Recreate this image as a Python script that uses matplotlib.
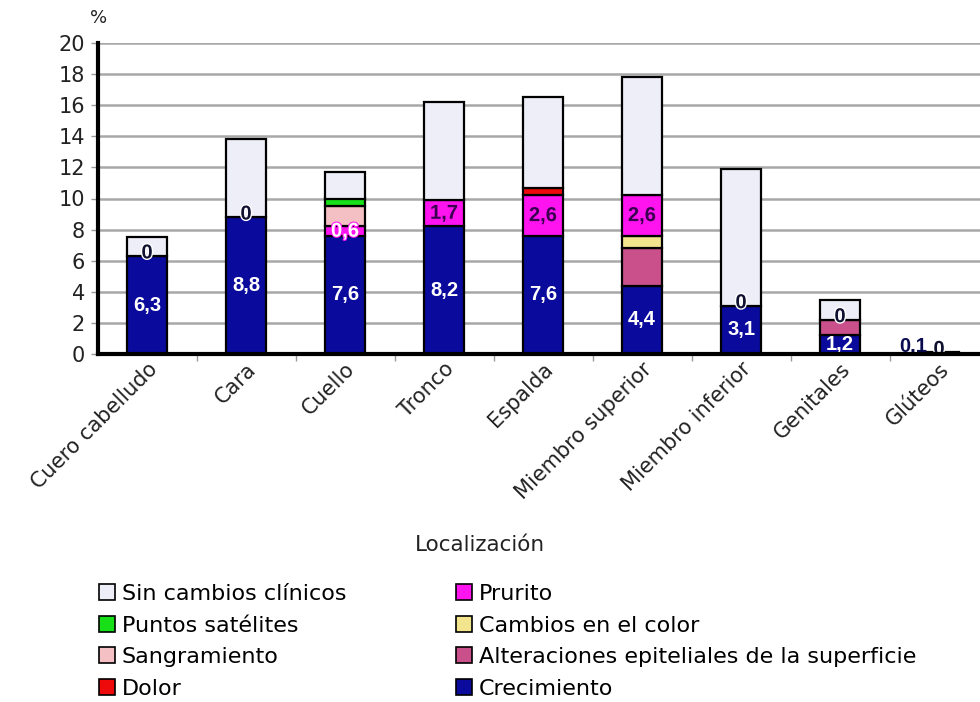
import numpy as np
import matplotlib
matplotlib.use("Agg")
import matplotlib.pyplot as plt
import matplotlib.transforms as mtransforms
from matplotlib.patches import Patch
import matplotlib.patheffects as pe

plt.rcParams['font.family'] = ['DejaVu Sans']

categories = ["Cuero cabelludo", "Cara", "Cuello", "Tronco", "Espalda",
              "Miembro superior", "Miembro inferior", "Genitales", "Glúteos"]

# stacked from bottom to top
crecimiento   = [6.3, 8.8, 7.6, 8.2, 7.6, 4.4, 3.1, 1.2, 0.1]
alteraciones  = [0.0, 0.0, 0.0, 0.0, 0.0, 2.4, 0.0, 1.0, 0.0]
cambios_color = [0.0, 0.0, 0.0, 0.0, 0.0, 0.8, 0.0, 0.0, 0.0]
prurito       = [0.0, 0.0, 0.6, 1.7, 2.6, 2.6, 0.0, 0.0, 0.0]
sangramiento  = [0.0, 0.0, 1.3, 0.0, 0.0, 0.0, 0.0, 0.0, 0.0]
dolor         = [0.0, 0.0, 0.0, 0.0, 0.5, 0.0, 0.0, 0.0, 0.0]
puntos        = [0.0, 0.0, 0.5, 0.0, 0.0, 0.0, 0.0, 0.0, 0.0]
sin_cambios   = [1.2, 5.0, 1.7, 6.3, 5.8, 7.6, 8.8, 1.3, 0.0]

series = [
    ("Crecimiento", crecimiento, "#0a0a9c"),
    ("Alteraciones epiteliales de la superficie", alteraciones, "#c9508b"),
    ("Cambios en el color", cambios_color, "#f3e58e"),
    ("Prurito", prurito, "#ff14f0"),
    ("Sangramiento", sangramiento, "#f4c0c4"),
    ("Dolor", dolor, "#ee0a0a"),
    ("Puntos satélites", puntos, "#18e018"),
    ("Sin cambios clínicos", sin_cambios, "#eeeef8"),
]

yticks = list(range(0, 21, 2))

fig = plt.figure(figsize=(9.8, 7.02), dpi=100)
ax = fig.add_axes([97.5 / 980, 1 - 354 / 702, 891 / 980, 311 / 702])

x = np.arange(len(categories))
bottom = np.zeros(len(categories))
bottoms = {}
for name, vals, col in series:
    vals = np.array(vals, dtype=float)
    bars = ax.bar(x, vals, width=0.41, bottom=bottom, color=col,
                  edgecolor="black", linewidth=1.6, zorder=3)
    for b, v in zip(bars, vals):
        if v == 0:
            b.set_visible(False)
    bottoms[name] = bottom.copy()
    bottom = bottom + vals

def fmt(v):
    return f"{v:g}".replace(".", ",")

bold = dict(fontsize=14.5, fontweight="bold", ha="center", va="center",
            family=["Liberation Sans", "DejaVu Sans"], zorder=5)

# growth values
for i, v in enumerate(crecimiento):
    if v >= 1:
        ax.text(i, bottoms["Crecimiento"][i] + v / 2, fmt(v), color="white", **bold)
    else:
        ax.text(i - 0.26, 0.5, fmt(v), color="#0a0a50", **bold)

# itching values
for i, v in enumerate(prurito):
    yb = bottoms["Prurito"][i]
    if v > 0:
        c = "white" if v < 1 else "#3a0050"
        ax.text(i, yb + v / 2, fmt(v), color=c,
                path_effects=[pe.withStroke(linewidth=1.5, foreground="#ff14f0")], **bold)
    else:
        ax.text(i, yb + 0.2, "0", color="#101030",
                path_effects=[pe.withStroke(linewidth=2, foreground="white")], **bold)

ax.set_xlim(-0.5, 8.5)
ax.set_ylim(0, 20)
ax.set_yticks(yticks)
ax.set_yticklabels([str(t) for t in yticks], fontsize=15, color="#222222")
ax.yaxis.grid(True, color="#a8a8a8", linewidth=1.8, zorder=0)
ax.set_axisbelow(True)
ax.tick_params(axis="y", length=5, width=1, color="#999999", pad=4)

ax.set_xticks(x)
ax.set_xticklabels(categories, rotation=45, ha="right", rotation_mode="anchor",
                   fontsize=15, color="#222222")
offset = mtransforms.ScaledTranslation(0.25, -0.05, fig.dpi_scale_trans)
for lbl in ax.get_xticklabels():
    lbl.set_transform(lbl.get_transform() + offset)
ax.tick_params(axis="x", length=0)
ax.set_xticks(np.arange(0.5, 8.5, 1), minor=True)
ax.tick_params(axis="x", which="minor", length=5, width=1, color="#999999")

for s in ["top", "right"]:
    ax.spines[s].set_visible(False)
ax.spines["left"].set_linewidth(3)
ax.spines["bottom"].set_linewidth(3)
ax.spines["left"].set_zorder(6)
ax.spines["bottom"].set_zorder(6)

fig.text(90 / 980, 1 - 18 / 702, "%", fontsize=13, ha="left", va="center", color="#222222")
fig.text(480 / 980, 1 - 545 / 702, "Localización", fontsize=15.5, ha="center",
         va="center", color="#222222")

legend_order = ["Sin cambios clínicos", "Puntos satélites", "Sangramiento", "Dolor",
                "Prurito", "Cambios en el color",
                "Alteraciones epiteliales de la superficie", "Crecimiento"]
colors = {n: c for n, _, c in series}
handles = [Patch(facecolor=colors[n], edgecolor="black", linewidth=1.2, label=n)
           for n in legend_order]
fig.legend(handles=handles, ncol=2, loc="upper left",
           bbox_to_anchor=(99 / 980, 1 - 584 / 702), frameon=False,
           fontsize=16, handlelength=0.72, handleheight=0.72, handletextpad=0.3,
           columnspacing=4.95, labelspacing=0.52, borderaxespad=0, borderpad=0)

fig.savefig("out.png", dpi=100, facecolor="white")
